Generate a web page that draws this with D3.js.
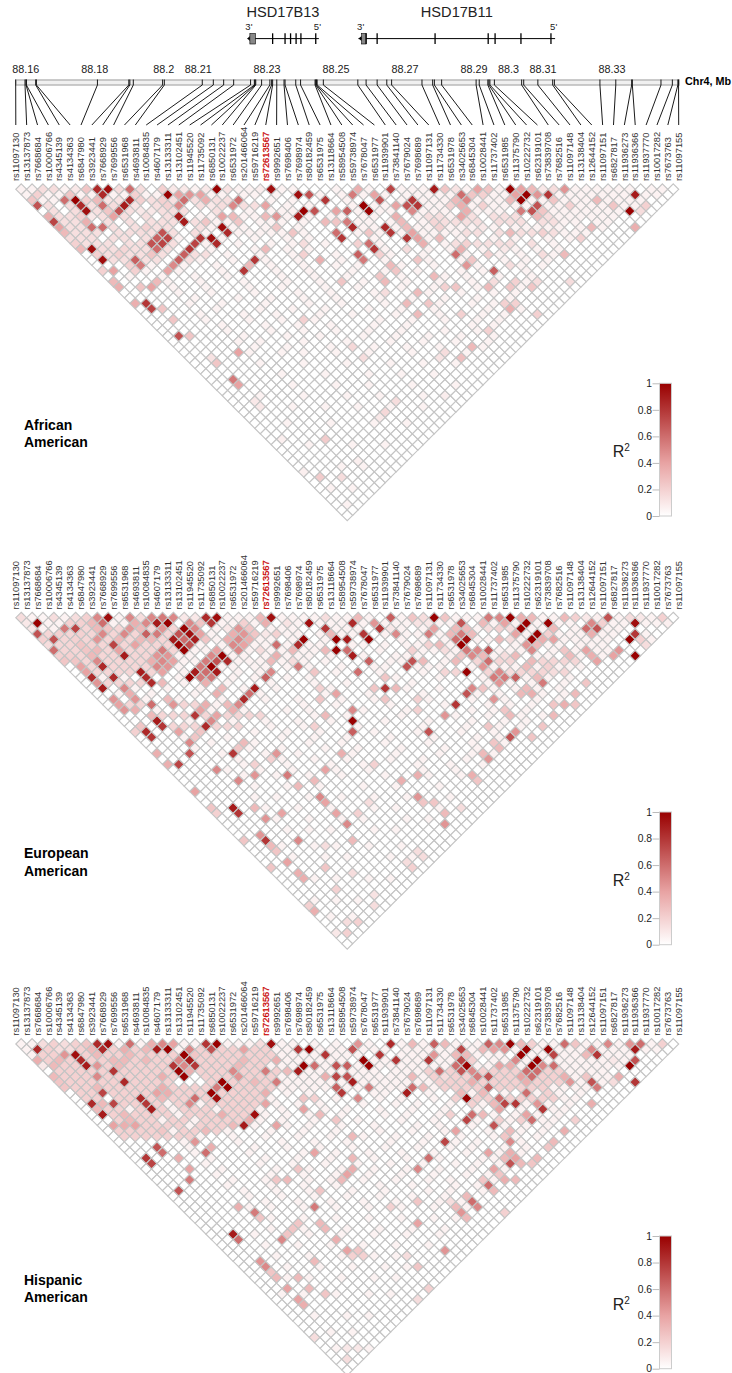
<!DOCTYPE html>
<html><head><meta charset="utf-8">
<script src="https://cdn.jsdelivr.net/npm/d3@7"></script>
<style>html,body{margin:0;padding:0;background:#fff}svg{display:block}text{font-family:"Liberation Sans",Arial,sans-serif}</style>
</head><body><div id="c"></div>
<script>
const snps=["rs11097130","rs13137873","rs7668684","rs10006766","rs4345139","rs4134363","rs6847980","rs3923441","rs7668929","rs7699556","rs6531968","rs4693811","rs10084835","rs4607179","rs13133311","rs13102451","rs11945520","rs11735092","rs6850131","rs10022237","rs6531972","rs201466064","rs59716219","rs72613567","rs9992651","rs7698406","rs7698974","rs80182459","rs6531975","rs13118664","rs58954508","rs59738974","rs7678047","rs6531977","rs11939901","rs73841140","rs7679024","rs7698689","rs11097131","rs11734330","rs6531978","rs34025653","rs6845304","rs10028441","rs11737402","rs6531985","rs11375790","rs10222732","rs62319101","rs73839708","rs7682516","rs11097148","rs13138404","rs12644152","rs11097151","rs6827817","rs11936273","rs11936366","rs11937770","rs10017282","rs7673763","rs11097155"];
const snpMb=[88.1571,88.1598,88.1601,88.1602,88.1629,88.1631,88.1808,88.1899,88.1902,88.1912,88.1997,88.2002,88.2112,88.2144,88.2174,88.2203,88.2252,88.2263,88.2265,88.2267,88.2284,88.2308,88.2313,88.2316,88.2328,88.2349,88.2352,88.2383,88.2397,88.2439,88.2441,88.2443,88.2445,88.2463,88.2563,88.2587,88.2619,88.2647,88.2661,88.2749,88.2780,88.2785,88.2806,88.2906,88.2915,88.2940,88.2943,88.2946,88.2959,88.3038,88.3044,88.3085,88.3128,88.3133,88.3265,88.3311,88.3357,88.3359,88.3442,88.3475,88.3491,88.3493];
const mbTicks=[88.16,88.18,88.2,88.21,88.23,88.25,88.27,88.29,88.3,88.31,88.33];
const highlightSnp="rs72613567";
const legendTicks=[0,.2,.4,.6,.8,1];
const genes=[
 {name:"HSD17B13",start:88.2243,end:88.2450,boxStart:88.2250,boxEnd:88.2266,exons:[88.2316,88.2352,88.2368,88.2384,88.2398,88.2441],labelAt:88.2346},
 {name:"HSD17B11",start:88.2565,end:88.3135,boxStart:88.2574,boxEnd:88.2587,exons:[88.2587,88.2619,88.2787,88.2941,88.2961,88.3036,88.3123],labelAt:88.2850}];
// LD cells: [row, [sum, r2, sum, r2 ...]]  row = j-i-1, sum = i+j (SNP indices)
const afrCells=[
[0,[5,.15,7,.15,11,.1,13,.25,15,.85,17,.95,19,.15,21,.6,23,.15,27,.2,29,.1,31,.1,35,.1,37,1,39,.12,45,.08,47,.95,63,.35,69,.75,77,.9,79,.25,81,.12,85,.4,87,.25,91,1,93,.4,95,.3,97,.1,99,.15,101,.45]],
[1,[4,.2,10,.25,16,.85,22,.2,28,1,30,.4,32,.45,34,.4,52,.95,54,.7,62,.55,66,.4,82,.6,84,.25,86,.2,92,.4,94,1,96,.45,98,.8,114,.9]],
[2,[3,.25,9,.6,11,1,13,.2,15,.3,17,.12,19,.12,21,.85,23,.2,27,.2,31,.6,35,.35,41,.6,57,.8,67,.7,73,.8,81,.3,83,.5,91,.3,93,1,99,.25,107,.3]],
[3,[4,.7,10,.15,12,.85,16,.6,18,.15,20,.9,22,.12,28,.2,30,.5,36,.1,38,.15,40,.5,46,.4,64,1,70,.4,72,.7,74,.8,80,.2,82,.35,86,.2,96,.7,102,.2,110,.25,116,.2]],
[4,[11,.15,13,.95,17,.25,19,.7,23,.1,25,.1,29,.15,53,1,55,.7,59,.4,61,.65,65,1,73,.5,83,.35,93,.55,95,.7,97,.25,113,1,115,.15]],
[5,[6,.35,12,.2,14,.1,18,.4,30,.9,38,.4,40,.3,46,.3,48,.45,52,.9,70,.35,82,.4,96,.3]],
[6,[7,.75,13,.35,31,.9,35,.25,41,.25,57,.3,59,.25,61,.55,71,.3,77,.18,89,.15]],
[7,[8,.4,14,.6,16,.6,24,.2,38,.95,48,.25,62,.85,68,.85,72,.3,78,.2,86,.1,106,.3,114,.35]],
[8,[9,.3,23,.15,27,.7,39,.85,51,.25,59,.6,65,.25,69,.8,73,.4,91,.3,97,.2]],
[9,[10,.15,26,.65,28,.75,34,.8,36,.95,60,.8,72,.8,74,.4,78,.3,104,.2]],
[10,[11,.2,25,.7,27,.75,33,.75,37,.85,53,.15,63,.2,65,.6,75,.35,83,.2]],
[11,[12,.3,14,.95,16,.15,20,.18,26,.6,32,.8,46,.3,66,.8,72,.15,82,.35,90,.1]],
[12,[15,.2,19,.2,25,.25,31,.65,53,.2,63,.65,67,.2,81,.6,87,.2,97,.15,101,.3]],
[13,[16,.95,22,.65,30,.65,44,.8,56,.35,64,.55,74,.25,84,.25]],
[14,[21,.2,23,.55,29,.5,43,.3,69,.3,83,.45,91,.15]],
[15,[16,.2,18,.4,22,.2,28,.4,42,.8,70,.25,88,.65]],
[16,[67,.25,77,.3]],
[17,[18,.3,26,.3,60,.25,68,.3,88,.15,92,.2,96,.15,102,.15]],
[18,[19,.35,23,.25,25,.4,79,.2,81,.25,87,.3,91,.25,95,.25]],
[19,[74,.3,68,.15]],
[21,[22,.35,24,.8,72,.3,76,.25,90,.2,92,.2]],
[22,[25,.75,27,.25,91,.35]],
[23,[74,.3,83,.2,97,.2]],
[24,[29,.25,53,.2]],
[26,[87,.2]],
[27,[30,.7,32,.25]],
[29,[62,.17,84,.3]],
[30,[41,.4,79,.15]],
[31,[36,.12,64,.15,78,.12,82,.28]],
[32,[37,.25]],
[35,[40,.55]],[36,[41,.4]],[38,[79,.08]],[39,[44,.1,70,.15]],[40,[45,.1]],[41,[68,.17]],[42,[67,.1]],
[46,[49,.07,57,.22]],[50,[63,.07]],[52,[53,.07]],[53,[56,.22,60,.15]]];
const afrMid=[
[2,[25,29,33,37,39]],[3,[6,14,26,34,42,44]],[4,[7,15,21,27,31,37]],[5,[8,10,16,20,24,28,76,78,84,88,90,92,98]],
[6,[9,11,17,21,25,27,29,33,79,81,83,85,91,93,97,99]],[7,[10,12,18,22,26,28,34]],[8,[11,13,15,19,21,25,29,33,83,85,89,93,95,99]],
[9,[12,14,18,20,24]],[10,[13,15,17,21,23,29,81,85,87,89,91,95]],[11,[18,22,24,28]],[12,[17,21,23,27,33,35]],[13,[18,20,24,26,32]]];
const afrPale=[
[0,[1,3,9,33,41,43,49,51,59,65,71,73,75,83,89,103,105,107,109,111,113,117,119]],
[1,[2,6,8,12,14,18,20,24,26,36,38,42,44,48,56,60,64,68,72,74,76,78,80,88,90,100,102,104,106,108,110,112,116,118]],
[2,[5,7,47,51,61,71,75,77,79,85,87,89,95,97,101,103,105,109,111,113,115]],
[3,[50,54,62,66,68,76,78,84,88,90,92,94,98,100,104,106,108,112,114]],
[4,[43,47,49,51,63,67,69,75,77,79,85,87,89,99,101,103,105,107,109,111]],
[5,[34,36,42,44,50,54,58,60,64,66,74,80,100,102,104,106,108,110]],
[6,[37,39,45,47,49,53,63,65,69,75,101,103,107,109]],
[7,[36,40,42,46,52,64,66,70,74,76,80,82,84,88,92,94,96,98,100,104,108]],
[8,[35,41,43,45,47,49,53,63,67,71,75,77,79,81,101,103,105]],
[9,[30,38,44,50,54,66,76,82,88,92,98,102]],
[10,[35,41,47,51,57,67,79,99]],
[11,[36,44,50,54,68,76,80,86,92,96,100]],
[12,[39,45,51,59,69,75,83,89,93,99]],
[13,[34,40,46,52,60,68,76,82,90,94,98]],
[14,[25,31,37,47,53,59,63,71,77,85,93,97]],
[15,[24,30,38,48,54,62,68,74,82,86,94]],
[16,[21,27,33,39,49,55,61,71,79,83,89,95]],
[17,[28,34,42,50,56,64,72,78,84,94]],
[18,[29,35,43,49,57,63,71,77,85,93]],
[19,[30,36,44,52,58,66,76,82,88,92]],
[20,[33,41,47,53,59,67,73,79,85,91]],
[21,[32,38,46,54,60,68,78,84,88]],
[22,[37,45,51,57,65,71,77,87,93]],
[23,[34,42,48,56,62,70,78,86,90]],
[24,[35,43,49,55,67,73,79,85,89]],
[25,[38,46,52,58,66,72,84,88]],
[26,[39,47,53,59,65,71,79,85]],
[27,[42,50,56,64,70,76,82,88]],
[28,[41,45,53,61,69,75,81,87]],
[29,[44,50,58,66,72,78,86]],
[30,[43,49,53,59,65,73,83]],
[32,[46,54,62,70,76,82]],
[34,[49,57,65,71,77]],
[36,[51,59,65,73,81]],
[38,[45,53,61,67,75]],
[40,[51,57,63,69,75]],
[43,[50,58,66,72]],
[47,[54,62,68]],
[51,[60,64]],[55,[58,62]],[58,[61]]];

const eurCells=[
[0,[1,.15,5,.05,7,.15,11,.15,13,.2,15,.5,17,.95,21,.5,23,.15,25,.5,27,.55,29,.5,31,.1,33,.1,35,.85,37,.95,45,.3,47,.95,57,.15,63,.3,69,.65,73,.25,75,.15,77,1,79,.25,87,.55,89,.5,91,1,93,.35,95,.3,101,.3,103,.2,105,.1,107,.07,109,.7,113,.15,115,.1,119,.2]],
[1,[2,.1,4,1,10,.2,12,.2,14,.3,16,.6,22,.35,24,.5,26,.9,28,1,32,.5,34,.25,36,.8,42,.2,46,.35,50,.12,54,.95,62,.85,66,.45,74,.12,76,.1,82,.7,86,.3,90,.4,94,1,98,1,106,.5,108,.2,114,.95,120,.07]],
[2,[3,.1,9,.55,11,.75,15,.3,17,.25,21,.45,23,.3,27,.45,31,1,33,.5,39,.1,41,.45,43,.25,57,.8,67,.8,69,.1,77,.4,81,.3,83,.3,87,.15,89,.2,91,.15,93,1,99,.3,105,.6,107,.7]],
[3,[4,.7,8,.2,12,.2,16,.5,20,.5,24,.65,26,.55,30,.7,32,.95,34,.4,40,.35,42,.45,44,.25,46,.1,48,.2,58,.3,64,.8,70,.5,76,.55,80,.3,82,.55,84,.3,92,.4,96,1,98,.2,106,.35,114,.8]],
[4,[5,.2,7,.7,11,.2,15,.45,19,.3,23,.3,25,.3,29,.9,31,.6,33,.9,35,.25,39,.35,41,.5,43,.35,53,1,59,1,61,.9,65,1,81,.6,83,.95,89,.3,91,.15,95,1,97,.35,99,.4,113,1,115,.2]],
[5,[6,.15,12,.25,14,.2,18,.75,22,.4,30,1,32,.7,40,.5,42,.4,48,.6,52,.85,76,.2,78,.3,82,1,94,.45,96,.3,116,.15]],
[6,[7,.6,13,.25,15,.3,19,.4,27,.55,31,1,37,.4,41,.5,45,.15,51,.3,57,.3,59,1,61,.6,73,.2,79,.15,83,.55,85,.5,87,.7,95,.5,101,.25,105,.4,111,.45]],
[7,[8,.2,10,.2,14,.3,20,.9,26,.45,28,.45,36,.5,38,1,48,.35,62,.9,82,.25,84,.5,86,.3,90,.15,93,.3,102,.3,106,.35,110,.4,114,1]],
[8,[9,.25,11,.25,15,.5,25,.35,27,.5,29,.4,35,.55,37,.7,39,.85,47,.3,51,.15,65,.65,73,.7,75,.3,81,.3,87,.6,95,.3,107,.4]],
[9,[12,.4,16,.85,26,.5,28,.45,34,.55,36,1,52,.55,72,.7,86,.45,94,.3,98,.2]],
[10,[13,.4,23,.9,27,.4,33,.9,35,.6,37,.9,48,.5,55,.25,63,.6,83,1,89,.5,91,.15,99,.15]],
[11,[14,.85,18,.85,24,.85,32,1,34,.55,36,.55,46,.65,68,.25,88,.55,90,.55,92,.65,96,.3]],
[12,[15,.45,25,.85,27,.3,35,.35,89,.45,97,.55,105,.25]],
[13,[16,.9,20,.5,38,.3,44,.9,56,.2,66,.25,68,.8,70,.3,84,.5,86,.25,94,.3]],
[14,[21,.35,37,.35,43,.6,59,.4,83,.7,93,.3,95,.35,103,.3]],
[15,[18,.45,22,.45,28,.3,42,.85,56,.25,68,.25,74,.2,88,.45]],
[16,[19,.4,26,.6,29,.45,35,.35,39,.3,41,.5,81,.8,99,.25,101,.35,103,.25]],
[17,[20,.45,22,.35,34,.4,40,.35,62,.5,75,.2,90,.25]],
[18,[25,.3,33,.8,37,.4,58,.3,79,.45,91,.3,99,.3]],
[19,[26,.9,36,.5,62,1]],
[20,[23,.25,27,.8,35,.85,55,.2,87,.25,97,.25]],
[21,[22,.2,24,.85,30,.4,35,.25,62,.65,76,.7,92,.45]],
[22,[25,.8,33,.25,91,.7,95,.25]],
[23,[32,.5,42,.3,88,.25]],
[24,[41,.25,89,.3]],
[25,[26,.35,32,.7,40,.8,48,.45,60,.35,86,.3]],
[26,[47,.2,87,.45]],
[27,[28,.35,30,.75,44,.2,67,.2]],
[28,[37,.5,57,.4]],
[29,[44,.45,50,.55,74,.35,84,.35]],
[30,[41,.5,55,.3,71,.35,85,.25]],
[31,[52,.3]],[32,[33,.4]],[33,[56,.5,74,.45]],[34,[57,.4,65,.15,75,.25,77,.25]],
[35,[36,.25,40,.9,44,.3,83,.15]],[36,[37,.2,41,.8,49,.4,59,.4,63,.2,79,.3]],[37,[46,.45]],[38,[61,.5,79,.45]],
[40,[45,.45]],[41,[42,.25,46,.8,52,.5,62,.3]],[42,[47,.3,57,.15]],[43,[48,.25,74,.15]],[44,[75,.15]],
[45,[50,.4,72,.15]],[46,[47,.25,57,.25,73,.2]],[47,[52,.35,62,.15]],[48,[53,.35]],[50,[59,.2]],
[51,[66,.12]],[53,[54,.2,66,.15]],[54,[55,.35]],[56,[61,.15,63,.2]],[58,[59,.1,61,.2]]];
const eurMid=[
[2,[13,19,25,29]],[3,[6,10,14,18,22,28]],[4,[9,13,17,21,27]],[5,[8,10,16,20,24,26,28]],[6,[9,11,17,21,23,25,29]],[7,[12,16,18,22,24]],
[8,[13,17,19,21,23,85,89,91,97,99,101,103]],[9,[14,18,20,22,24]],[10,[15,17,19,21,25,79,81,87,93,95,97,101]],[12,[17,19,21,23]],
[16,[21,23,25,31,33]],[18,[27,29,31,35,39,41,43,45]],[20,[29,31,33,37,39,41]]];
const eurPale=[
[0,[3,9,19,39,41,43,49,51,53,55,59,61,65,71,81,83,85,97,99,111,117]],
[1,[6,8,18,20,38,40,44,52,56,58,60,64,68,70,72,78,80,88,92,96,100,102,110,112,116,118]],
[2,[5,7,37,47,49,51,59,61,63,71,75,85,95,97,103,109,111]],
[3,[36,50,52,56,60,62,68,72,74,78,94,100,102,104,108,110,116]],
[4,[37,45,47,51,57,71,75,79,85,87,93,101,103,105,107,109,117]],
[5,[34,38,44,46,50,54,56,62,64,68,72,74,80,92,98,100,104,106,108]],
[6,[33,35,39,43,47,49,53,55,67,75,77,81,89,91,93,99,103,107,109]],
[7,[30,32,40,42,46,50,52,54,58,64,70,72,74,80,88,96,98,104,108]],
[8,[31,33,41,43,45,49,53,57,69,71,79]],
[9,[30,38,40,44,46,50,54,60,66,68,74,76,78,84,88,90,92,96,100,102,104]],
[10,[31,41,45,59,67,75]],
[11,[16,20,30,40,44,50,54,70,78,86,94,98,102]],
[12,[31,39,47,55,61,73,87,91,95,101]],
[13,[22,28,34,42,48,58,72,78,88,92,96,100]],
[14,[19,25,33,45,57,65,75,85,89,97,101]],
[15,[24,30,38,46,52,60,66,76,84,90,96,100]],
[16,[37,53,59,69,79,87,91,95]],
[17,[26,36,42,50,54,64,72,84,88,94]],
[18,[55,61,71,81,87,93,97]],
[19,[32,40,46,52,58,68,76,84,90,94]],
[20,[47,53,63,75,83,89,93]],
[21,[34,44,50,56,66,74,82,88]],
[22,[31,39,49,55,61,69,77,85,89]],
[23,[36,44,54,60,68,76,84,90]],
[24,[33,43,49,57,63,71,79,85]],
[25,[38,46,52,62,70,78,84,88]],
[26,[41,49,55,61,69,75,83]],
[27,[42,50,58,64,74,80,86]],
[28,[39,45,51,59,65,75,81]],
[29,[42,48,54,60,68,76,82]],
[31,[44,50,56,64,70,78]],
[33,[44,48,54,60,66,72,80]],
[35,[46,52,58,66,70,78]],
[37,[48,54,60,64,72,76]],
[39,[50,54,58,66,70]],
[42,[49,55,59,65,71]],
[44,[51,57,61,69,73]],
[48,[55,59,65,69]],[52,[55,59,63]],[55,[58,62]]];

const hisCells=[
[0,[5,.15,7,.2,9,.15,11,.2,13,.25,15,.85,17,.95,21,.6,25,.35,27,.5,29,.4,35,.8,37,1,45,.15,47,.95,63,.45,69,.85,73,.3,77,.65,79,.3,87,.65,89,.5,91,1,93,.3,95,.2,101,.6,103,.25,109,.5,113,.45,115,.6,119,.2]],
[1,[4,.85,8,.15,10,.15,12,.2,14,.3,16,.85,20,.35,24,.3,26,.9,28,1,32,.5,36,.7,42,.4,52,.8,54,1,62,.7,82,.75,86,.3,88,.4,90,.45,94,1,98,1,106,.5,114,.9]],
[2,[9,.45,11,.95,15,.3,21,.3,29,.2,31,1,33,.25,43,.2,57,.8,67,.8,77,.45,81,.3,83,.3,93,1,99,.75,105,.3,107,.8]],
[3,[4,.35,8,.3,12,.85,18,.3,20,.3,24,.3,30,.5,32,.9,42,.3,44,.2,48,.35,64,1,70,.8,76,.8,82,.75,84,.2,92,.5,96,1,110,.1,114,.7]],
[4,[5,.1,7,.3,13,.9,15,.45,19,.3,29,.8,31,.5,33,.8,41,.3,53,1,55,.6,59,.7,61,.65,65,1,81,.6,83,1,89,.4,91,.35,95,1,97,.5,99,.6,113,1]],
[5,[18,.8,30,1,32,.35,40,.5,46,.55,50,.3,52,.9,78,.6,82,.7,84,.5,94,.6,96,.6]],
[6,[7,.3,15,.5,27,.35,31,1,41,.45,57,.35,59,.75,61,.7,73,.3,79,.15,85,.55,87,.7,93,.4,95,.6,101,.35,105,.25,111,.35]],
[7,[8,.25,20,.85,38,1,44,.3,48,.55,62,.9,84,.35,94,.35,102,.45,106,.7,110,.15,114,.8]],
[8,[9,.25,15,.3,27,.35,37,.55,39,1,59,.65,65,.55,73,.6,75,.3,87,.65,107,.55]],
[9,[16,.75,26,.4,28,.35,36,1,46,.35,60,.8,72,.9,82,.3,86,.3,94,.6,98,.2]],
[10,[23,.85,27,.3,33,.6,37,.95,53,.25,55,.2,63,.5,83,1,89,.6,99,.2]],
[11,[14,.85,16,.3,18,.75,24,.8,32,.5,46,.4,84,.2,88,.3,90,.75,92,.8,96,.45,106,.35]],
[12,[15,.3,25,.9,53,.4,89,.4,97,.8]],
[13,[16,.9,20,.3,38,.35,44,.95,56,.3,80,.2,84,.6,86,.3,94,.4]],
[14,[21,.3,43,.35,59,.25,83,.75,89,.2,93,.2,95,.6,103,.2]],
[15,[18,.4,20,.35,22,.4,40,.3,42,.9,48,.4,88,.7]],
[16,[28,.25,35,.3,81,.4,91,.3,101,.35]],
[17,[62,.3,90,.25]],
[18,[33,.45,79,.75,91,.5,99,.3]],
[19,[26,.7,36,.35,98,.25]],
[20,[27,.6,35,.6,55,.4,87,.4,91,.35]],
[21,[24,.8,30,.35,62,.3,76,.6,90,.3,92,.4,96,.3]],
[22,[25,.75,91,.7,93,.3,95,.25]],
[23,[32,.4,52,.25,62,.35,74,.5,88,.4]],
[24,[61,.4,89,.25]],
[25,[32,.55,48,.25,50,.3,60,.3,86,.25,90,.35,92,.3]],
[26,[87,.6]],[27,[30,.7,57,.25,88,.3]],[28,[83,.3]],
[29,[74,.25,80,.15,84,.6]],
[30,[41,.35,55,.55,69,.2,81,.3,85,.5]],
[31,[44,.55,82,.45,90,.2]],[32,[45,.25,83,.3]],
[33,[52,.25,56,.3,74,.4]],[34,[51,.25,57,.3]],[35,[40,.9,50,.25]],
[36,[41,.6,49,.5,59,.35]],[38,[61,.4,63,.25,79,.45]],[39,[62,.2,64,.2,72,.15]],
[40,[45,.45,55,.3]],[41,[46,.5,74,.25]],[42,[47,.25]],[43,[48,.3,52,.3]],
[45,[50,.4,54,.3,76,.2]],[46,[57,.25]],[47,[52,.4,74,.15]],[48,[53,.35]],
[54,[55,.15]],[56,[61,.1,63,.1]],[58,[61,.15]]];
const hisMid=[
[1,[6,18,22,34,38,40,44,46]],
[2,[5,7,13,17,19,23,25,27,35,37,39,41,45,47]],
[3,[6,10,14,16,22,26,28,34,36,38,40,46]],
[4,[9,11,17,21,23,25,27,35,37,39,43,45]],
[5,[8,10,12,14,16,20,22,24,26,28,34,36,38,42,44,48,76,80,86,88,90,92,98,100]],
[6,[9,11,13,17,19,21,23,25,29,35,37,39,43,45,47,77,81,83,89,91,97,99]],
[7,[10,12,14,16,18,22,24,26,28,36,40,42,46,78,80,82,86,88,90,92,96,98,100]],
[8,[11,13,17,19,21,23,25,29,31,33,35,41,43,45,47,79,81,83,85,89,91,93,95,97]],
[9,[12,14,18,20,22,24,30,32,34,38,40,42,44]],
[10,[13,15,19,21,25,29,31,35,39,41,43,45,81,85,87,91,93,95,97]],
[11,[20,22,26,30,36,38,40,42,44]],
[12,[17,19,23,27,31,33,35,39,41,43]],
[13,[18,22,24,26,28,32,34,36,40,42]],
[14,[19,23,25,29,31,35,37,39,41]],
[15,[24,26,28,30,34,36,38]],
[16,[19,21,23,25,27,31,33,37]],
[17,[20,22,24,26,28,30,32]]];
const hisPale=[
[0,[1,3,19,23,31,33,39,41,43,49,51,55,59,65,71,75,81,83,85,97,99,105,107,111,117]],
[1,[2,30,48,50,56,58,60,64,66,68,72,74,76,78,80,84,92,96,100,102,104,108,110,112,116,118]],
[2,[3,49,51,53,55,59,61,63,71,73,75,79,85,87,89,95,97,101,103,109,111,113]],
[3,[50,52,54,56,58,60,66,68,72,74,78,80,88,90,94,98,100,102,104,106,108,112]],
[4,[47,49,51,57,63,67,69,71,73,75,77,79,85,87,93,101,103,105,107,109,111]],
[5,[54,56,58,60,62,64,66,70,72,74,102,104,106,108]],
[6,[49,51,53,55,63,65,67,69,71,75,103,107,109]],
[7,[50,52,54,56,58,60,64,66,68,70,72,74,76,104,108]],
[8,[49,51,53,55,57,61,63,67,69,71,77,99,101,103,105]],
[9,[50,54,66,68,76,84,90,96,100,104]],
[10,[47,59,67,71,77,101,103]],
[11,[18,28,34,48,52,56,64,70,74,80,86,94,98,102]],
[12,[21,29,37,45,49,57,61,67,73,79,85,93,99,101]],
[13,[20,30,38,46,50,54,60,68,72,78,88,92,96,100]],
[14,[27,33,45,49,55,63,71,77,85,91,97,99]],
[15,[22,32,44,50,54,60,66,74,78,84,90,94,98]],
[16,[29,39,47,53,59,67,73,79,87,93,97]],
[17,[34,40,46,52,58,64,70,76,82,88,92,96]],
[18,[31,41,49,55,61,69,75,81,85,93]],
[19,[32,44,50,56,62,68,74,80,84,90,94]],
[20,[33,43,53,59,65,71,77,83,89,93]],
[21,[36,46,52,58,66,72,78,86,88]],
[22,[35,45,51,57,63,69,75,81,85,89]],
[23,[38,48,54,60,66,72,78,84,90]],
[24,[37,47,53,59,65,71,77,83,87]],
[25,[40,46,54,58,64,70,76,80,88]],
[26,[39,47,53,59,67,73,81,85]],
[27,[42,48,54,62,68,76,80,86]],
[28,[43,49,55,61,67,73,79]],
[29,[46,52,58,64,70,78,82]],
[30,[43,47,53,59,65,71,77,83]],
[32,[47,53,59,65,71,77,81]],
[34,[47,53,61,67,73,79]],
[35,[44,54,60,66,72,78]],
[37,[46,52,58,64,70,76]],
[39,[48,54,60,66,70]],
[41,[50,56,62,68,72]],
[43,[50,54,60,66,70]],
[46,[49,53,59,65,69]],
[50,[55,61,65]],[53,[58,62]],[56,[59,65]]];
const paleLevel=.055;
const midLevels=[.14,.18,.2];

const panelNames=[["African","American"],["European","American"],["Hispanic","American"]];
const panels=[
 {cells:afrCells,mid:afrMid,pale:afrPale,top:189.3,legendTop:383.3,name:panelNames[0],midV:midLevels[0]},
 {cells:eurCells,mid:eurMid,pale:eurPale,top:617.7,legendTop:812,name:panelNames[1],midV:midLevels[1]},
 {cells:hisCells,mid:hisMid,pale:hisPale,top:1044,legendTop:1236,name:panelNames[2],midV:midLevels[2]}];

const W=732,H=1373;
const svg=d3.select("#c").append("svg").attr("width",W).attr("height",H).attr("viewBox",[0,0,W,H]);
const xSnp=d3.scalePoint().domain(snps).range([15.8,678.7]);
const xMb=d3.scaleLinear().domain([88.16,88.33]).range([25.7,612]);
const r2Color=d3.scaleLinear().domain([0,.4,1]).range(["#ffffff","#e8a3a3","#990000"]);
const step=xSnp.step();

const gs=svg.append("g");
genes.forEach(g=>{
  const y=38.6;
  gs.append("text").text(g.name).attr("x",xMb(g.labelAt)).attr("y",17).attr("text-anchor","middle").attr("font-size",14.6).attr("fill","#222");
  gs.append("line").attr("x1",xMb(g.start)).attr("x2",xMb(g.end)).attr("y1",y).attr("y2",y).attr("stroke","#000").attr("stroke-width",1);
  gs.append("path").attr("d",`M${xMb(g.start)},${y}l${xMb(g.boxStart)-xMb(g.start)},-2.5v5z`).attr("fill","#000");
  gs.append("rect").attr("x",xMb(g.boxStart)).attr("width",xMb(g.boxEnd)-xMb(g.boxStart)).attr("y",33.5).attr("height",10.5).attr("fill","#888").attr("stroke","#000").attr("stroke-width",.6);
  gs.selectAll(null).data(g.exons).join("line").attr("x1",d=>xMb(d)).attr("x2",d=>xMb(d)).attr("y1",33.3).attr("y2",44).attr("stroke","#000").attr("stroke-width",1.3);
  gs.append("text").text("3'").attr("x",xMb(g.boxStart)-4.5).attr("y",30).attr("font-size",9.5).attr("fill","#222");
  gs.append("text").text("5'").attr("x",xMb(g.end)-5).attr("y",30).attr("font-size",9.5).attr("fill","#222");
});

const rg=svg.append("g");
rg.append("rect").attr("x",15.8).attr("width",678.7-15.8+.5).attr("y",80).attr("height",5).attr("fill","#f0f0f0").attr("stroke","#b5b5b5").attr("stroke-width",1.4);
rg.selectAll(null).data(mbTicks).join("text").text(d=>d).attr("x",d=>xMb(d)).attr("y",73).attr("text-anchor","middle").attr("font-size",10.8).attr("fill","#222");
rg.selectAll(null).data(snps).join("line").attr("x1",(d,i)=>xMb(snpMb[i])).attr("x2",(d,i)=>xMb(snpMb[i])).attr("y1",79.5).attr("y2",85).attr("stroke","#000").attr("stroke-width",.9);
rg.selectAll(null).data(snps).join("line").attr("x1",(d,i)=>xMb(snpMb[i])).attr("y1",85).attr("x2",d=>xSnp(d)).attr("y2",125).attr("stroke","#000").attr("stroke-width",.9);
rg.append("text").text("Chr4, Mb").attr("x",685).attr("y",85).attr("font-size",10.8).attr("font-weight","bold").attr("fill","#000");

panels.forEach(p=>{
  const g=svg.append("g");
  const r2=new Map();
  const key=(r,s)=>r+":"+s;
  const norm=(r,s)=>s-((s+r+1)%2);
  p.pale.forEach(([r,ss])=>ss.forEach(s=>r2.set(key(r,norm(r,s)),paleLevel)));
  p.mid.forEach(([r,ss])=>ss.forEach(s=>r2.set(key(r,norm(r,s)),p.midV)));
  p.cells.forEach(([r,a])=>{for(let k=0;k<a.length;k+=2)r2.set(key(r,norm(r,a[k])),a[k+1]);});
  const cells=[];
  for(let i=0;i<snps.length;i++)for(let j=i+1;j<snps.length;j++){
    const r=j-i-1,s=i+j;cells.push({i,j,r,v:r2.get(key(r,s))||0});
  }
  g.selectAll("path.cell").data(cells).join("path").attr("class","cell")
   .attr("d",d=>{const cx=(xSnp(snps[d.i])+xSnp(snps[d.j]))/2,cy=p.top+d.r*step/2,h=step/2;return `M${cx},${cy-h}L${cx+h},${cy}L${cx},${cy+h}L${cx-h},${cy}Z`;})
   .attr("fill",d=>r2Color(d.v)).attr("stroke","#c4c4c4").attr("stroke-width",1.15);
  const baseY=p.top-8.3;
  g.selectAll("text.snp").data(snps).join("text").attr("class","snp").text(d=>d)
   .attr("transform",d=>`translate(${xSnp(d)+3.2},${baseY}) rotate(-90)`)
   .attr("font-size",9.3).attr("fill",d=>d===highlightSnp?"#c80000":"#333")
   .attr("stroke",d=>d===highlightSnp?"#c80000":"none").attr("stroke-width",.25);
  g.selectAll("text.pop").data(p.name).join("text").attr("class","pop").text(d=>d)
   .attr("x",24).attr("y",(d,i)=>p.top+240.5+i*17.5).attr("font-size",14).attr("font-weight","bold").attr("fill","#000");
  const lx=659.5,lw=12,ly0=p.legendTop,ly1=p.legendTop+132.7;
  const gradId="grad"+Math.round(p.top);
  const grad=g.append("linearGradient").attr("id",gradId).attr("x1",0).attr("x2",0).attr("y1",1).attr("y2",0);
  [0,.2,.4,.6,.8,1].forEach(t=>grad.append("stop").attr("offset",t).attr("stop-color",r2Color(t)));
  g.append("rect").attr("x",lx).attr("y",ly0).attr("width",lw).attr("height",ly1-ly0).attr("fill",`url(#${gradId})`).attr("stroke","#ccc").attr("stroke-width",1);
  const yL=d3.scaleLinear().domain([0,1]).range([ly1,ly0]);
  const ax=g.append("g").attr("transform",`translate(${lx},0)`).call(d3.axisLeft(yL).tickValues(legendTicks).tickFormat(d3.format("~g")).tickSize(7));
  ax.select(".domain").remove();
  ax.selectAll("line").attr("stroke","#bbb");
  ax.selectAll("text").attr("font-size",10.3).attr("fill","#222").attr("font-family","Liberation Sans").attr("x",-7.5);
  const rt=g.append("text").attr("x",612.7).attr("y",p.legendTop+74).attr("font-size",16).attr("fill","#222");
  rt.append("tspan").text("R");
  rt.append("tspan").text("2").attr("font-size",10).attr("dy",-6.5);
});
</script></body></html>
